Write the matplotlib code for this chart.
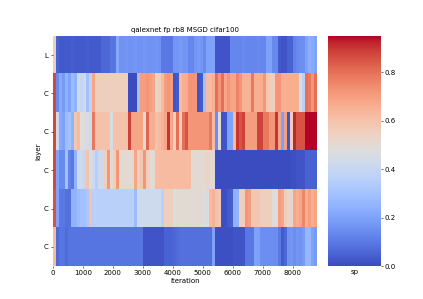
import matplotlib
matplotlib.use('Agg')
import matplotlib.pyplot as plt
import numpy as np

# sparsity per layer, one value for each 100 iterations (88 columns)
layers = ['L', 'C', 'C', 'C', 'C', 'C']

row0 = [0.55, 0.05, 0.03, 0.03, 0.03, 0.03, 0.04, 0.03, 0.03, 0.03, 0.03, 0.04, 0.03, 0.03, 0.03, 0.03,
        0.06, 0.06, 0.06, 0.09, 0.09, 0.22, 0.16, 0.16, 0.17, 0.16, 0.16, 0.17, 0.16, 0.16, 0.17, 0.16,
        0.16, 0.16, 0.17, 0.16, 0.10, 0.10, 0.10, 0.10, 0.17, 0.17, 0.18, 0.17, 0.17, 0.13, 0.13, 0.17,
        0.18, 0.17, 0.14, 0.20, 0.20, 0.20, 0.02, 0.02, 0.02, 0.02, 0.02, 0.13, 0.13, 0.13, 0.13, 0.14,
        0.13, 0.13, 0.13, 0.13, 0.14, 0.13, 0.13, 0.20, 0.20, 0.14, 0.14, 0.03, 0.02, 0.02, 0.05, 0.05,
        0.12, 0.14, 0.15, 0.15, 0.20, 0.24, 0.22, 0.20]
row1 = [0.87, 0.14, 0.22, 0.18, 0.25, 0.20, 0.28, 0.25, 0.42, 0.40, 0.42, 0.30, 0.38, 0.68, 0.55, 0.55,
        0.55, 0.55, 0.55, 0.55, 0.55, 0.55, 0.55, 0.55, 0.55, 0.0, 0.0, 0.0, 0.30, 0.70, 0.70, 0.72,
        0.70, 0.68, 0.52, 0.55, 0.62, 0.70, 0.72, 0.70, 0.02, 0.03, 0.62, 0.66, 0.66, 0.72, 0.72, 0.72,
        0.02, 0.03, 0.30, 0.62, 0.62, 0.65, 0.80, 0.72, 0.80, 0.68, 0.72, 0.68, 0.68, 0.76, 0.72, 0.65,
        0.65, 0.65, 0.78, 0.66, 0.66, 0.66, 0.72, 0.58, 0.55, 0.55, 0.72, 0.72, 0.66, 0.66, 0.66, 0.66,
        0.66, 0.66, 0.45, 0.36, 0.80, 0.78, 0.72, 0.80]
row2 = [0.87, 0.42, 0.22, 0.20, 0.28, 0.30, 0.25, 0.58, 0.62, 0.48, 0.48, 0.45, 0.42, 0.78, 0.60, 0.60,
        0.60, 0.60, 0.60, 0.45, 0.60, 0.60, 0.60, 0.60, 0.60, 0.88, 0.68, 0.68, 0.68, 0.68, 0.50, 0.82,
        0.66, 0.66, 0.60, 0.62, 0.65, 0.68, 0.90, 0.68, 0.55, 0.80, 0.55, 0.80, 0.85, 0.72, 0.72, 0.72,
        0.72, 0.72, 0.72, 0.72, 0.78, 0.62, 0.15, 0.50, 0.02, 0.02, 0.20, 0.20, 0.62, 0.90, 0.85, 0.88,
        0.70, 0.70, 0.70, 0.70, 0.88, 0.88, 0.78, 0.78, 0.72, 0.72, 0.90, 0.68, 0.20, 0.70, 0.02, 0.55,
        0.92, 0.85, 0.85, 0.85, 0.97, 0.97, 0.97, 0.97]
row3 = [0.87, 0.20, 0.14, 0.14, 0.30, 0.12, 0.10, 0.25, 0.42, 0.42, 0.40, 0.60, 0.45, 0.42, 0.35, 0.42,
        0.42, 0.55, 0.72, 0.50, 0.55, 0.72, 0.50, 0.50, 0.50, 0.50, 0.50, 0.68, 0.55, 0.58, 0.72, 0.55,
        0.50, 0.50, 0.62, 0.62, 0.62, 0.62, 0.62, 0.62, 0.62, 0.62, 0.62, 0.62, 0.62, 0.62, 0.50, 0.50,
        0.50, 0.50, 0.50, 0.53, 0.50, 0.50, 0.0, 0.0, 0.0, 0.0, 0.0, 0.0, 0.0, 0.0, 0.0, 0.0,
        0.0, 0.0, 0.0, 0.0, 0.0, 0.0, 0.0, 0.0, 0.0, 0.0, 0.0, 0.0, 0.0, 0.0, 0.0, 0.01,
        0.01, 0.02, 0.02, 0.02, 0.05, 0.05, 0.05, 0.05]
row4 = [0.85, 0.20, 0.10, 0.10, 0.08, 0.08, 0.25, 0.25, 0.28, 0.30, 0.30, 0.32, 0.60, 0.36, 0.36, 0.36,
        0.36, 0.36, 0.36, 0.36, 0.36, 0.36, 0.36, 0.36, 0.36, 0.36, 0.36, 0.28, 0.42, 0.42, 0.42, 0.42,
        0.42, 0.42, 0.42, 0.42, 0.36, 0.55, 0.55, 0.55, 0.47, 0.50, 0.50, 0.50, 0.50, 0.50, 0.50, 0.50,
        0.50, 0.50, 0.47, 0.46, 0.62, 0.65, 0.60, 0.58, 0.01, 0.01, 0.03, 0.04, 0.25, 0.25, 0.55, 0.55,
        0.72, 0.70, 0.58, 0.58, 0.58, 0.55, 0.55, 0.55, 0.55, 0.48, 0.48, 0.70, 0.68, 0.56, 0.52, 0.52,
        0.68, 0.66, 0.68, 0.75, 0.66, 0.70, 0.66, 0.68]
row5 = [0.62, 0.06, 0.09, 0.09, 0.07, 0.09, 0.09, 0.09, 0.09, 0.09, 0.09, 0.09, 0.09, 0.09, 0.09, 0.09,
        0.09, 0.09, 0.09, 0.09, 0.09, 0.09, 0.09, 0.09, 0.09, 0.09, 0.09, 0.09, 0.09, 0.09, 0.02, 0.02,
        0.02, 0.02, 0.02, 0.02, 0.02, 0.05, 0.05, 0.05, 0.06, 0.07, 0.08, 0.08, 0.08, 0.08, 0.08, 0.08,
        0.08, 0.08, 0.08, 0.08, 0.08, 0.20, 0.01, 0.01, 0.01, 0.01, 0.01, 0.01, 0.02, 0.02, 0.02, 0.02,
        0.10, 0.10, 0.10, 0.20, 0.20, 0.15, 0.15, 0.15, 0.15, 0.15, 0.15, 0.10, 0.03, 0.06, 0.16, 0.17,
        0.15, 0.17, 0.16, 0.18, 0.26, 0.26, 0.20, 0.18]

sp = np.array([row0, row1, row2, row3, row4, row5])
tick_vals = [0, 1000, 2000, 3000, 4000, 5000, 6000, 7000, 8000]

fig = plt.figure(figsize=(4.23, 2.99), dpi=100)
ax = fig.add_axes([0.125, 0.11, 0.624, 0.77])
cax = fig.add_axes([0.775, 0.11, 0.125, 0.77])

im = ax.imshow(sp, cmap='coolwarm', vmin=0, vmax=0.95, aspect='auto',
               extent=[0, 8800, 6, 0], interpolation='nearest')
ax.set_yticks(np.arange(6) + 0.5)
ax.set_yticklabels(layers, fontsize=5)
ax.set_xticks(tick_vals)
ax.tick_params(axis='x', labelsize=5, length=1.5, width=0.4, pad=1.5)
ax.tick_params(axis='y', length=1.5, width=0.4, pad=1.5)
ax.set_xlabel('iteration', fontsize=5, labelpad=1)
ax.set_ylabel('layer', fontsize=5, labelpad=2)
ax.set_title('qalexnet fp rb8 MSGD cifar100', fontsize=5, pad=3)
for s in ax.spines.values():
    s.set_visible(False)

cb = fig.colorbar(im, cax=cax)
cb.set_ticks([0, 0.2, 0.4, 0.6, 0.8])
cb.ax.tick_params(labelsize=5, length=1.5, width=0.4, pad=1.5)
cb.outline.set_visible(False)
cax.set_xlabel('sp', fontsize=5, labelpad=2)

fig.savefig('out.png', dpi=100)
